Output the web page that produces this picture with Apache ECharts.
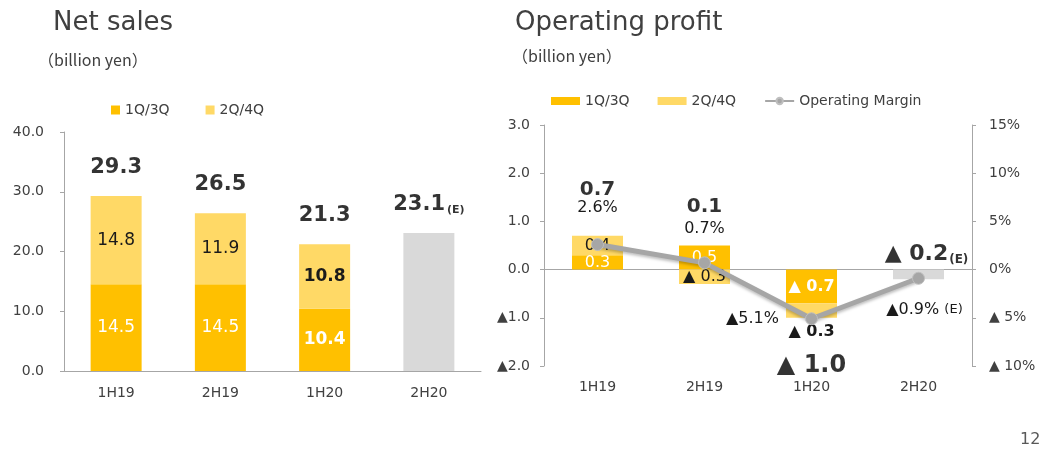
<!DOCTYPE html>
<html>
<head>
<meta charset="utf-8">
<script src="https://cdn.jsdelivr.net/npm/echarts@6/dist/echarts.min.js"></script>
<style>
  html, body { margin: 0; padding: 0; background: #fff; }
  #main { width: 1043px; height: 452px; }
</style>
</head>
<body>
<div id="main"></div>
<script>
// data
var categories = ['1H19', '2H19', '1H20', '2H20'];

var salesFirst = [14.5, 14.5, 10.4, null];
var salesSecond = [14.8, 11.9, 10.8, null];
var salesEstimate = [null, null, null, 23.1];
var salesTotal = [29.3, 26.5, 21.3, 23.1];

var profitFirst = [0.3, 0.5, -0.7, null];
var profitSecond = [0.4, -0.3, -0.3, null];
var profitEstimate = [null, null, null, -0.2];
var profitTotal = [0.7, 0.1, -1.0, -0.2];
var operatingMargin = [2.6, 0.7, -5.1, -0.9];

var DARK = '#ffc000', LIGHT = '#ffd966', GREY = '#d9d9d9', TXT = '#404040';
var FONT = '"DejaVu Sans", "Noto Sans CJK JP", sans-serif';

function neg(v, digits) {
    return v < 0 ? '▲ ' + (-v).toFixed(digits) : v.toFixed(digits);
}

var bold = [false, false, true, false];

var myChart = echarts.init(document.getElementById('main'));

var option = {
    animation: false,
    textStyle: { fontFamily: FONT },
    title: [
        { text: 'Net sales', left: 53, top: 10, padding: 0, textStyle: { fontSize: 26, fontWeight: 'normal', color: TXT } },
        { text: '（billion yen）', left: 38, top: 52, padding: 0, textStyle: { fontSize: 16, fontWeight: 'normal', color: TXT, fontFamily: '"Noto Sans CJK JP", sans-serif' } },
        { text: 'Operating profit', left: 515, top: 10, padding: 0, textStyle: { fontSize: 26, fontWeight: 'normal', color: TXT } },
        { text: '（billion yen）', left: 512, top: 48, padding: 0, textStyle: { fontSize: 16, fontWeight: 'normal', color: TXT, fontFamily: '"Noto Sans CJK JP", sans-serif' } },
        { text: '12', left: 1020, top: 432, padding: 0, textStyle: { fontSize: 16, fontWeight: 'normal', color: '#595959' } }
    ],
    legend: [
        {
            left: 106, top: 98, itemWidth: 9, itemHeight: 9, itemGap: 36,
            icon: 'rect',
            textStyle: { fontSize: 14, color: TXT },
            data: ['1Q/3Q', '2Q/4Q']
        },
        {
            left: 546, top: 89, itemWidth: 29, itemHeight: 8, itemGap: 28,
            textStyle: { fontSize: 14, color: TXT },
            data: [{ name: '1Q/3Q', icon: 'rect' }, { name: '2Q/4Q', icon: 'rect' }, 'Operating Margin']
        }
    ],
    grid: [
        { left: 64, top: 132, width: 417, height: 239 },
        { left: 544, top: 125, width: 428, height: 241 }
    ],
    xAxis: [
        {
            type: 'category', gridIndex: 0, data: categories,
            axisLine: { lineStyle: { color: '#a6a6a6' } },
            axisTick: { length: 5, lineStyle: { color: '#a6a6a6' } },
            axisLabel: { fontSize: 14, color: TXT, margin: 15 }
        },
        {
            type: 'category', gridIndex: 1, data: categories,
            axisLine: { onZero: true, lineStyle: { color: '#a6a6a6' } },
            axisTick: { length: 4, lineStyle: { color: '#a6a6a6' } },
            axisLabel: { show: false }
        },
        {
            type: 'category', gridIndex: 1, data: categories, position: 'bottom',
            axisLine: { show: false, onZero: false },
            axisTick: { show: false },
            axisLabel: { fontSize: 14, color: TXT, margin: 14 }
        }
    ],
    yAxis: [
        {
            type: 'value', gridIndex: 0, min: 0, max: 40, interval: 10,
            axisLine: { show: true, lineStyle: { color: '#a6a6a6' } },
            axisTick: { show: true, length: 4, lineStyle: { color: '#a6a6a6' } },
            splitLine: { show: false },
            axisLabel: { fontSize: 14, color: TXT, margin: 20, formatter: function (v) { return v.toFixed(1); } }
        },
        {
            type: 'value', gridIndex: 1, min: -2, max: 3, interval: 1,
            axisLine: { show: true, lineStyle: { color: '#a6a6a6' } },
            axisTick: { show: true, length: 4, lineStyle: { color: '#a6a6a6' } },
            splitLine: { show: false },
            axisLabel: {
                fontSize: 14, color: TXT, margin: 14,
                formatter: function (v) { return v < 0 ? '▲' + (-v).toFixed(1) : v.toFixed(1); }
            }
        },
        {
            type: 'value', gridIndex: 1, min: -10, max: 15, interval: 5, position: 'right',
            axisLine: { show: true, lineStyle: { color: '#a6a6a6' } },
            axisTick: { show: true, length: 4, lineStyle: { color: '#a6a6a6' } },
            splitLine: { show: false },
            axisLabel: {
                fontSize: 14, color: TXT, margin: 17,
                formatter: function (v) { return v < 0 ? '▲ ' + (-v) + '%' : v + '%'; }
            }
        }
    ],
    series: [
        // ---- Net sales ----
        {
            name: '1Q/3Q', type: 'bar', stack: 'sales', xAxisIndex: 0, yAxisIndex: 0, barWidth: 51,
            itemStyle: { color: DARK },
            data: salesFirst.map(function (v, i) {
                return { value: v, label: { fontWeight: bold[i] ? 'bold' : 'normal' } };
            }),
            label: { show: true, position: 'inside', color: '#fff', fontSize: 17, formatter: function (p) { return p.value.toFixed(1); } }
        },
        {
            name: '2Q/4Q', type: 'bar', stack: 'sales', xAxisIndex: 0, yAxisIndex: 0, barWidth: 51,
            itemStyle: { color: LIGHT },
            data: salesSecond.map(function (v, i) {
                return { value: v, label: { fontWeight: bold[i] ? 'bold' : 'normal' } };
            }),
            label: { show: true, position: 'inside', color: '#1a1a1a', fontSize: 17, formatter: function (p) { return p.value.toFixed(1); } }
        },
        {
            name: 'Estimate', type: 'bar', stack: 'sales', xAxisIndex: 0, yAxisIndex: 0, barWidth: 51,
            itemStyle: { color: GREY },
            data: salesEstimate
        },
        {
            name: 'Total', type: 'scatter', xAxisIndex: 0, yAxisIndex: 0,
            symbolSize: 1, itemStyle: { color: 'rgba(0,0,0,0)' },
            data: salesTotal,
            label: {
                show: true, position: 'top', distance: 17, color: '#000',
                formatter: function (p) {
                    var s = '{b|' + p.value.toFixed(1) + '}';
                    if (salesEstimate[p.dataIndex] != null) s += '{e|(E)}';
                    return s;
                },
                rich: {
                    b: { fontSize: 21, fontWeight: 'bold', color: '#000' },
                    e: { fontSize: 11, fontWeight: 'bold', color: '#000', verticalAlign: 'bottom', padding: [8, 0, 0, 2] }
                }
            }
        },
        // ---- Operating profit ----
        {
            name: '1Q/3Q', type: 'bar', stack: 'op', xAxisIndex: 1, yAxisIndex: 1, barWidth: 51,
            itemStyle: { color: DARK },
            data: profitFirst.map(function (v, i) {
                return { value: v, label: { fontWeight: bold[i] ? 'bold' : 'normal' } };
            }),
            label: { show: true, position: 'inside', color: '#fff', fontSize: 16, formatter: function (p) { return neg(p.value, 1); } }
        },
        {
            name: '2Q/4Q', type: 'bar', stack: 'op', xAxisIndex: 1, yAxisIndex: 1, barWidth: 51,
            itemStyle: { color: LIGHT },
            data: profitSecond.map(function (v, i) {
                if (bold[i]) return { value: v, label: { position: 'bottom', distance: 6, fontWeight: 'bold' } };
                return v;
            }),
            label: { show: true, position: 'inside', color: '#1a1a1a', fontSize: 16, formatter: function (p) { return neg(p.value, 1); } }
        },
        {
            name: 'Estimate', type: 'bar', stack: 'op', xAxisIndex: 1, yAxisIndex: 1, barWidth: 51,
            itemStyle: { color: GREY },
            data: profitEstimate
        },
        {
            name: 'Total', type: 'scatter', xAxisIndex: 1, yAxisIndex: 1,
            symbolSize: 1, itemStyle: { color: 'rgba(0,0,0,0)' },
            data: [
                { value: profitTotal[0], label: { position: 'top', distance: 36 } },
                { value: profitTotal[1], label: { position: 'top', distance: 47 } },
                { value: profitTotal[2], label: { position: 'bottom', distance: 35 } },
                { value: profitTotal[3], label: { position: 'top', distance: 13, offset: [8, 0] } }
            ],
            label: {
                show: true, color: '#000',
                formatter: function (p) {
                    var v = p.value;
                    if (profitEstimate[p.dataIndex] != null) return '{n|' + neg(v, 1) + '}{e|(E)}';
                    if (v < 0) return '{m|' + neg(v, 1) + '}';
                    return '{b|' + v.toFixed(1) + '}';
                },
                rich: {
                    b: { fontSize: 20, fontWeight: 'bold', color: '#000' },
                    m: { fontSize: 24, fontWeight: 'bold', color: '#000' },
                    n: { fontSize: 22, fontWeight: 'bold', color: '#000' },
                    e: { fontSize: 12, fontWeight: 'bold', color: '#000', verticalAlign: 'bottom', padding: [6, 0, 0, 1] }
                }
            }
        },
        {
            name: 'Operating Margin', type: 'line', xAxisIndex: 1, yAxisIndex: 2, z: 5,
            symbol: 'circle', symbolSize: 12,
            lineStyle: { color: '#a6a6a6', width: 5, shadowColor: 'rgba(0,0,0,0.25)', shadowBlur: 3, shadowOffsetY: 2 },
            itemStyle: { color: '#a6a6a6', borderColor: '#bfbfbf', borderWidth: 1 },
            data: [
                { value: operatingMargin[0], label: { position: 'top', distance: 22 } },
                { value: operatingMargin[1], label: { position: 'top', distance: 20 } },
                { value: operatingMargin[2], label: { position: 'left', distance: 26 } },
                { value: operatingMargin[3], label: { position: 'bottom', distance: 17, offset: [6, 0] } }
            ],
            label: {
                show: true, fontSize: 16, color: '#1a1a1a',
                formatter: function (p) {
                    var v = p.value;
                    var s = v < 0 ? '▲' + (-v).toFixed(1) + '%' : v.toFixed(1) + '%';
                    if (profitEstimate[p.dataIndex] != null) s += ' {s|(E)}';
                    return s;
                },
                rich: { s: { fontSize: 13, color: '#1a1a1a' } }
            }
        }
    ]
};

myChart.setOption(option);
</script>
</body>
</html>
